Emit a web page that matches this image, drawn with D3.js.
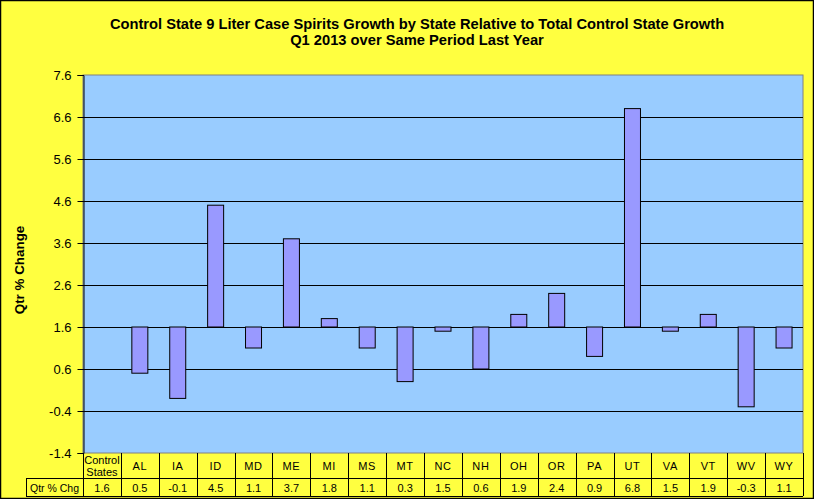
<!DOCTYPE html>
<html><head><meta charset="utf-8">
<script src="https://cdn.jsdelivr.net/npm/d3@7"></script>
<style>body{margin:0;background:#fff}svg{display:block}</style>
</head><body>
<svg id="c" width="814" height="499"></svg>
<script>
const categories = ["Control States","AL","IA","ID","MD","ME","MI","MS","MT","NC","NH","OH","OR","PA","UT","VA","VT","WV","WY"];
const values = [1.6,0.5,-0.1,4.5,1.1,3.7,1.8,1.1,0.3,1.5,0.6,1.9,2.4,0.9,6.8,1.5,1.9,-0.3,1.1];
const yTicks = [7.6,6.6,5.6,4.6,3.6,2.6,1.6,0.6,-0.4,-1.4];
const baseline = 1.6;
const titleLines = ["Control State 9 Liter Case Spirits Growth by  State Relative to Total Control State Growth","Q1 2013 over Same Period Last Year"];
const yLabel = "Qtr % Change";
const rowLabel = "Qtr % Chg";

const svg = d3.select("#c");
const W = 814, H = 499;
const L = 83, R = 803, T = 75, B = 453;
const font = "Arial, 'Liberation Sans', sans-serif";
const fmt = d => d3.format(".1f")(d).replace("\u2212","-");

svg.append("rect").attr("x",0.5).attr("y",0.5).attr("width",W-1).attr("height",H-1)
  .attr("fill","#FFFF40").attr("stroke","#000").attr("stroke-width",1.5);

const x = d3.scaleBand().domain(categories).range([L,R]).paddingInner(0).paddingOuter(0);
const y = d3.scaleLinear().domain([-1.4,7.6]).range([B,T]);

// plot area
svg.append("rect").attr("x",L).attr("y",T).attr("width",R-L).attr("height",B-T)
  .attr("fill","#99CCFF").attr("stroke","#808080").attr("stroke-width",1);

// gridlines
svg.append("g").selectAll("line").data(yTicks.filter(d=>d!==-1.4 && d!==7.6)).join("line")
  .attr("x1",L).attr("x2",R).attr("y1",d=>Math.round(y(d))+0.5).attr("y2",d=>Math.round(y(d))+0.5)
  .attr("stroke","#000").attr("stroke-width",1);

// y axis
const yAxis = d3.axisLeft(y).tickValues(yTicks).tickSize(6).tickFormat(fmt);
const ga = svg.append("g").attr("transform",`translate(${L+0.5},0)`).call(yAxis);
ga.select(".domain").attr("stroke","#000");
ga.selectAll(".tick line").attr("stroke","#000");
ga.selectAll(".tick text").attr("font-family",font).attr("font-size",13).attr("fill","#000").attr("x",-12);

// bars
const bw = 16;
svg.append("g").selectAll("rect").data(categories.map((c,i)=>({c,v:values[i]}))).join("rect")
  .attr("x",d=>x(d.c)+x.bandwidth()/2-bw/2)
  .attr("y",d=>y(Math.max(d.v,baseline)))
  .attr("width",bw)
  .attr("height",d=>Math.abs(y(d.v)-y(baseline)))
  .attr("fill","#9999FF").attr("stroke","#000").attr("stroke-width",1);

// title
svg.append("g").selectAll("text").data(titleLines).join("text")
  .attr("x",417).attr("y",(d,i)=>28.5+i*16.5).attr("text-anchor","middle")
  .attr("font-family",font).attr("font-weight","bold").attr("font-size",14.7).attr("fill","#000")
  .text(d=>d);

// y label
svg.append("text").attr("transform","translate(24,270) rotate(-90)").attr("text-anchor","middle")
  .attr("font-family",font).attr("font-weight","bold").attr("font-size",13.4).attr("fill","#000").text(yLabel);

// data table
const r1t = B, r1b = 478, r2b = 496, rowL = 26;
const tg = svg.append("g").attr("stroke","#000").attr("stroke-width",1);
tg.append("line").attr("x1",L).attr("x2",R).attr("y1",r1b+0.5).attr("y2",r1b+0.5);
tg.append("line").attr("x1",rowL).attr("x2",L).attr("y1",r1b+0.5).attr("y2",r1b+0.5);
tg.append("line").attr("x1",rowL).attr("x2",R).attr("y1",r2b+0.5).attr("y2",r2b+0.5);
tg.append("line").attr("x1",rowL+0.5).attr("x2",rowL+0.5).attr("y1",r1b).attr("y2",r2b);
tg.append("line").attr("x1",R+0.5).attr("x2",R+0.5).attr("y1",r1t).attr("y2",r2b);
tg.selectAll(".v").data(categories).join("line")
  .attr("x1",d=>Math.round(x(d))+0.5).attr("x2",d=>Math.round(x(d))+0.5).attr("y1",r1t).attr("y2",r2b);

const tt = svg.append("g").attr("font-family",font).attr("font-size",11).attr("fill","#000").attr("text-anchor","middle");
categories.forEach((c,i)=>{
  const cx = x(c)+x.bandwidth()/2;
  const parts = c.split(" ");
  if(parts.length>1){
    tt.append("text").attr("x",cx).attr("y",464).text(parts[0]);
    tt.append("text").attr("x",cx).attr("y",476).text(parts[1]);
  } else {
    tt.append("text").attr("x",cx).attr("y",470).attr("letter-spacing",0.6).text(c);
  }
  tt.append("text").attr("x",cx).attr("y",491.5).text(fmt(values[i]));
});
tt.append("text").attr("x",(rowL+L)/2).attr("y",491.5).attr("font-size",10.5).text(rowLabel);
</script>
</body></html>
